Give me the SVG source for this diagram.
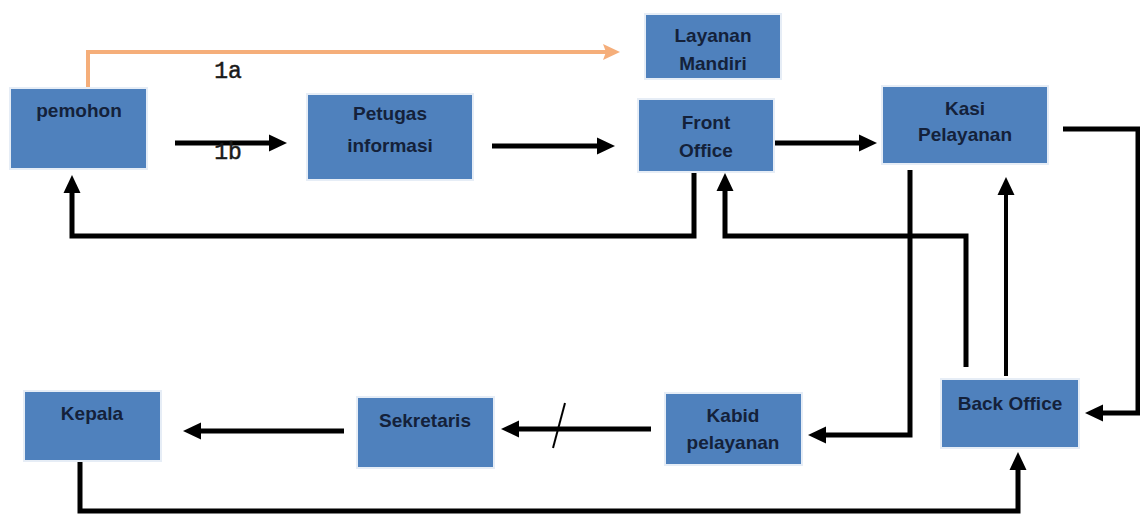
<svg xmlns="http://www.w3.org/2000/svg" width="1140" height="514" viewBox="0 0 1140 514">
  <style>
    .box { fill: #4f81bd; stroke: #e6edf6; stroke-width: 2; }
    .lbl { font-family: "Liberation Sans", Arial, sans-serif; font-size: 19px; font-weight: bold; fill: #14213a; text-anchor: middle; }
    .num { font-family: "Liberation Mono", "Courier New", monospace; font-size: 23px; fill: #1a1a1a; stroke: #1a1a1a; stroke-width: 0.5; text-anchor: middle; }
    .conn { fill: none; stroke: #000; stroke-width: 5; stroke-linejoin: miter; marker-end: url(#ah); }
    .thin { stroke-width: 4; }
    .orange { fill: none; stroke: #f5ae7a; stroke-width: 4; marker-end: url(#ao); }
  </style>
  <defs>
    <marker id="ah" markerUnits="userSpaceOnUse" markerWidth="18" markerHeight="18" refX="6" refY="9" orient="auto">
      <path d="M0,0.5 L18,9 L0,17.5 Z" fill="#000"/>
    </marker>
    <marker id="ao" markerUnits="userSpaceOnUse" markerWidth="18" markerHeight="18" refX="5" refY="9" orient="auto">
      <path d="M0,1 L17,9 L0,17 L3,9 Z" fill="#f5ae7a"/>
    </marker>
  </defs>
  <rect width="1140" height="514" fill="#fff"/>

  <g id="connectors">
    <path class="orange" d="M88,88 V52 H608"/>
    <path class="conn" d="M175,143 H275"/>
    <path class="conn" d="M492,146 H603"/>
    <path class="conn" d="M774,143 H865"/>
    <path class="conn" d="M694,172 V236 H72 V187"/>
    <path class="conn" d="M910,170 V435 H820"/>
    <path class="conn" d="M966,367 V236 H725 V185"/>
    <path class="conn thin" d="M1006,376 V189"/>
    <path class="conn" d="M1063,129 H1138 V413 H1097"/>
    <path class="conn" d="M651,429 H513"/>
    <line x1="565" y1="403" x2="553" y2="448" stroke="#000" stroke-width="2"/>
    <path class="conn" d="M344,431 H195"/>
    <path class="conn" d="M80,461 V511 H1018 V464"/>
    <text class="num" x="228" y="78">1a</text>
    <text class="num" x="228" y="159">1b</text>
  </g>

  <g id="pemohon">
    <rect class="box" x="10" y="88" width="137" height="81"/>
    <text class="lbl" x="79" y="117">pemohon</text>
  </g>
  <g id="petugas-informasi">
    <rect class="box" x="307" y="94" width="166" height="86"/>
    <text class="lbl" x="390" y="120">Petugas</text>
    <text class="lbl" x="390" y="152">informasi</text>
  </g>
  <g id="layanan-mandiri">
    <rect class="box" x="645" y="14" width="136" height="65"/>
    <text class="lbl" x="713" y="42">Layanan</text>
    <text class="lbl" x="713" y="70">Mandiri</text>
  </g>
  <g id="front-office">
    <rect class="box" x="638" y="99" width="136" height="73"/>
    <text class="lbl" x="706" y="129">Front</text>
    <text class="lbl" x="706" y="157">Office</text>
  </g>
  <g id="kasi-pelayanan">
    <rect class="box" x="882" y="86" width="166" height="78"/>
    <text class="lbl" x="965" y="115">Kasi</text>
    <text class="lbl" x="965" y="141">Pelayanan</text>
  </g>
  <g id="back-office">
    <rect class="box" x="941" y="379" width="138" height="69"/>
    <text class="lbl" x="1010" y="410">Back Office</text>
  </g>
  <g id="kabid-pelayanan">
    <rect class="box" x="665" y="393" width="137" height="72"/>
    <text class="lbl" x="733" y="422">Kabid</text>
    <text class="lbl" x="733" y="449">pelayanan</text>
  </g>
  <g id="sekretaris">
    <rect class="box" x="357" y="397" width="137" height="71"/>
    <text class="lbl" x="425" y="427">Sekretaris</text>
  </g>
  <g id="kepala">
    <rect class="box" x="24" y="391" width="137" height="70"/>
    <text class="lbl" x="92" y="420">Kepala</text>
  </g>
</svg>
